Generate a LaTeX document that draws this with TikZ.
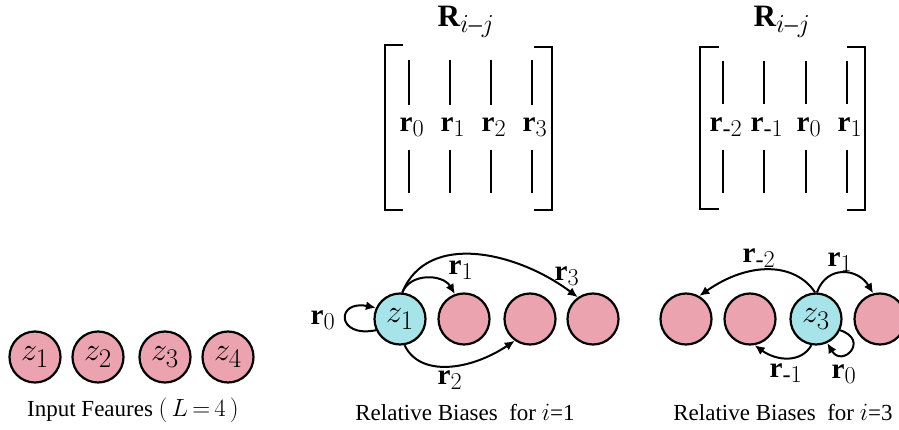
\documentclass[tikz,border=0pt]{standalone}
\usepackage{graphicx}
\usepackage{amsmath}
\usepackage{fontspec}
\setmainfont{Liberation Serif}
\usetikzlibrary{arrows.meta}
\definecolor{pinkc}{RGB}{235,164,175}
\definecolor{cyanc}{RGB}{166,228,234}
\newcommand\circm[1]{\scalebox{1.3}{$#1$}}
\newcommand\labm[1]{\scalebox{1.17}{$#1$}}
\newcommand\ttlm[1]{\scalebox{1.25}{$#1$}}
\begin{document}
\begin{tikzpicture}[x=1pt,y=-1pt,
  feat/.style={circle,draw,line width=2.2pt,fill=pinkc,minimum size=51pt,inner sep=0pt,font=\fontsize{24.88}{28}\selectfont},
  query/.style={feat,fill=cyanc},
  rel/.style={line width=2pt,-{Latex[length=10pt,width=9pt]}},
  lab/.style={font=\fontsize{24.88}{28}\selectfont,inner sep=0pt},
  ttl/.style={font=\fontsize{24.88}{28}\selectfont,inner sep=0pt},
  captxt/.style={font=\fontsize{23}{26}\selectfont,inner sep=0pt},
  brk/.style={line width=2.4pt},
  col/.style={line width=1.2pt}]
\useasboundingbox (0,0) rectangle (899,430);

% ---- input features
\node[feat] (a1) at (35,357) {\circm{z_1}};
\node[feat] (a2) at (98,357) {\circm{z_2}};
\node[feat] (a3) at (165,357) {\circm{z_3}};
\node[feat] (a4) at (228,357) {\circm{z_4}};
\node[captxt] (capa) at (133,410) {Input Feaures $(\,L\,{=}\,4\,)$};

% ---- relative biases i=1
\node[query] (b1) at (400,319) {\circm{z_1}};
\node[feat] (b2) at (464,319) {};
\node[feat] (b3) at (530,319) {};
\node[feat] (b4) at (593,319) {};
\draw[rel] (b1.205) .. controls +(-40,8) and +(-40,-8) .. (b1.155);
\draw[rel] (b1.85) .. controls +(8,-20) and +(-12,-20) .. (b2.110);
\draw[rel] (b1.85) .. controls +(25,-62) and +(-60,-45) .. (b4.125);
\draw[rel] (b1.-80) .. controls +(15,32) and +(-45,30) .. (b3.235);
\node[lab] (lb0) at (323,320) {\labm{\mathbf{r}_0}};
\node[lab] (lb1) at (461,270) {\labm{\mathbf{r}_1}};
\node[lab] (lb3) at (567,276) {\labm{\mathbf{r}_3}};
\node[lab] (lb2) at (450,380) {\labm{\mathbf{r}_2}};
\node[captxt] (capb) at (465,412) {Relative Biases\ \ for $i$=1};

% ---- relative biases i=3
\node[feat] (c1) at (686,319) {};
\node[feat] (c2) at (750,319) {};
\node[query] (c3) at (816,319) {\circm{z_3}};
\node[feat] (c4) at (880,319) {};
\draw[rel] (c3.92) .. controls +(-20,-30) and +(50,-35) .. (c1.60);
\draw[rel] (c3.88) .. controls +(10,-28) and +(-15,-25) .. (c4.105);
\draw[rel] (c3.-100) .. controls +(-10,18) and +(22,16) .. (c2.-80);
\draw[rel] (c3.-25) .. controls +(30,10) and +(15,25) .. (c3.-65);
\node[lab] (lcm2) at (759,258) {\labm{\mathbf{r}_{\text{-}2}}};
\node[lab] (lc1) at (840,262) {\labm{\mathbf{r}_1}};
\node[lab] (lcm1) at (786,373) {\labm{\mathbf{r}_{\text{-}1}}};
\node[lab] (lc0) at (844,374) {\labm{\mathbf{r}_0}};
\node[captxt] (capc) at (783,412) {Relative Biases\ \ for $i$=3};

% ---- matrix for i=1
\node[ttl] (tb) at (466,22) {\ttlm{\mathbf{R}_{i\text{--}j}}};
\draw[brk] (403,45) -- (385,45) -- (385,210) -- (403,210);
\draw[brk] (534,47) -- (552,47) -- (552,210) -- (534,210);
\foreach \x/\s [count=\k] in {409/0,450/1,491/2,532/3}{
  \draw[col] (\x,60) -- (\x,105);
  \draw[col] (\x,150) -- (\x,193);
  \node[lab] (mb\k) at (\x+3,127) {\labm{\mathbf{r}_{\s}}};
}

% ---- matrix for i=3
\node[ttl] (tc) at (782,22) {\ttlm{\mathbf{R}_{i\text{--}j}}};
\draw[brk] (719,47) -- (700,47) -- (700,209) -- (719,209);
\draw[brk] (847,47) -- (865,47) -- (865,210) -- (847,210);
\foreach \x/\s [count=\k] in {723/{\text{-}2},764/{\text{-}1},806/0,847/1}{
  \draw[col] (\x,61) -- (\x,104);
  \draw[col] (\x,150) -- (\x,193);
  \node[lab] (mc\k) at (\x+3,127) {\labm{\mathbf{r}_{\s}}};
}
\end{tikzpicture}
\end{document}
